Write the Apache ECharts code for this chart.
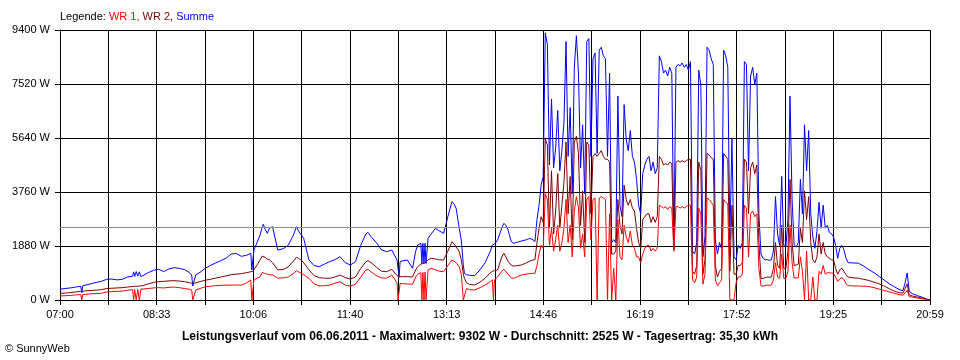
<!DOCTYPE html>
<html><head><meta charset="utf-8">
<script src="https://cdn.jsdelivr.net/npm/echarts@6/dist/echarts.min.js"></script>
<style>html,body{margin:0;padding:0;background:#fff}#c{width:960px;height:360px}</style>
</head><body><div id="c"></div>
<script>
// minutes since 07:00
const minutes = [
0,5,10,15,20,21,22,25,30,35,40,45,50,55,60,65,70,71,72,73.5,75,76.5,78,80,85,90,95,100,105,110,115,120,125,127,128,129.5,131,135,140,145,150,155,160,165,170,175,180,184,185,186,187,190,193,195,196,198,200,202,205,210,215,220,225,228,230,232,235,240,245,250,255,260,265,270,275,280,285,290,295,297,300,305,310,315,320,325,326,327,328,330,335,340,343,345,348,349,350,351,352,353,355,358,362,366,370,374,378,380,382,385,387,389,390,392,395,400,405,410,415,417,418,419,422,426,428,430,432,435,437,440,445,450,453,456,458,460,462,464,
466,468,470,472,474,476,478,480,482,484,486,488,490,492,494,496,498,500,502,504,506,508,510,512,514,516,518,520,522,524,526,528,530,532,534,536,538,540,542,544,546,548,550,552,554,556,558,560,562,564,566,568,570,572,574,576,578,580,582,584,586,588,590,592,594,596,598,600,602,604,606,608,610,612,614,616,618,620,622,624,626,628,630,632,634,636,638,640,642,644,646,648,650,652,654,656,658,660,662,664,666,668,670,672,674,676,678,680,682,684,686,688,690,692,694,696,698,700,702,704,706,708,710,712,714,716,718,720,722,724,726,728,730,732,734,736,738,740,742,744,746,748,750,752,754,756,758,760,
765,770,775,780,785,790,795,800,805,810,813,815,817,819,822,827,832,836,839
];
const summe = [
380,400,420,450,480,250,500,520,570,610,650,720,730,700,720,800,830,980,820,990,830,980,820,850,950,1030,1070,990,1080,1126,1100,1060,950,870,487,500,880,960,1100,1200,1290,1370,1450,1600,1620,1520,1560,1625,1044,1100,1740,2000,2262,2550,2634,2450,2320,2500,2552,1740,1780,1900,2250,2552,2400,2300,2146,1400,1200,1160,1250,1334,1400,1508,1300,1218,1334,1900,2300,2355,2200,2000,1750,1680,1740,1392,1350,812,1334,1360,1392,1102,1700,1915,1972,1270,1972,1270,1972,1270,2150,2300,2494,2400,2321,2900,3422,3350,3190,2500,2088,1200,928,880,860,847,1050,1300,1700,1915,1915,1950,2088,2500,2668,2600,2450,2050,1972,2000,2053,2100,2146,2100,2030,2800,3300,4000,
4300,9302,8900,4700,7000,4600,5300,6600,4500,5200,6200,9000,5000,6700,3700,8100,9200,7900,4600,6100,3700,9000,9100,5000,8400,8600,5100,8700,8800,8500,8400,5000,7900,2000,2100,2000,7100,3300,2900,6800,5600,5200,5900,5000,4800,4200,3300,3000,4400,4700,4900,5000,4500,4800,4400,4600,8500,8300,7900,8000,7800,8100,7900,1750,8100,8200,8150,8250,8100,8200,8000,8300,1700,1600,2000,8000,7500,1500,2200,8800,8700,8400,8200,2100,1600,2000,1800,8700,8500,8100,2100,5600,1500,1400,1900,1800,2000,8300,8200,4500,7800,8100,7500,7900,3000,1600,1450,1400,1400,1380,1400,1700,3600,2300,1900,4300,1900,1850,2800,7100,3500,1900,1850,2000,4200,3000,6100,4500,5900,3000,2200,1800,2400,3400,2500,3300,2500,2600,2350,2300,2200,1900,1450,1800,1900,1750,1450,1300,
1290,1280,1180,1060,950,820,690,560,450,350,330,600,940,300,220,150,90,30,0
];
const wr2 = [
230,240,260,280,300,300,300,320,330,345,360,400,410,420,430,450,470,470,475,480,480,485,490,500,560,610,640,650,665,673,660,640,600,580,580,580,590,640,690,720,760,800,840,880,900,920,950,985,990,1000,1050,1218,1400,1530,1566,1480,1420,1400,1300,1050,1060,1150,1350,1485,1450,1400,1300,1050,850,777,760,754,800,870,780,731,800,1100,1330,1369,1300,1150,1000,985,1068,850,812,812,812,812,812,800,1050,1160,1250,1260,1270,1280,1300,1320,1400,1450,1430,1400,1392,1700,2030,1950,1850,1682,1400,900,754,600,540,522,620,760,950,1000,1010,1020,1044,1500,1625,1500,1350,1220,1183,1190,1218,1300,1350,1392,1400,2000,2500,2900,
2700,5600,5400,2500,4500,2300,3100,4400,2500,3300,4100,5500,3000,4300,2100,5500,5700,5100,2600,3800,2000,5500,5400,3000,5000,5100,5000,5100,5200,5000,4900,4900,4800,1600,1600,1700,3500,2600,2300,4000,3500,3300,3500,3200,3100,2500,2000,1800,2800,2900,3000,3000,2700,2900,2700,2900,5000,4900,4700,4750,4700,4800,4750,1750,4800,4850,4800,4850,4800,4850,4900,4900,1000,900,1200,4800,4500,900,1400,5100,5050,4950,4900,1200,800,1000,1100,5100,5000,4900,1000,3300,900,900,1200,1200,1300,4900,4800,3000,4600,4800,4400,4700,2000,750,750,780,800,790,800,1100,2000,1200,1100,2600,1100,1100,1700,4200,2000,1200,1220,1250,2500,2000,3800,2800,3600,2000,1400,1300,1500,2300,1600,2000,1600,1500,1450,1400,1380,1100,900,1050,1110,1000,880,800,
770,760,720,680,620,560,480,390,300,250,240,400,560,180,140,100,60,20,0
];
const wr1 = [
140,150,160,175,190,0,195,200,215,225,235,280,290,300,310,340,360,0,365,0,370,0,375,380,400,420,430,420,440,450,430,400,370,350,0,0,350,400,460,480,500,510,515,520,520,520,600,696,0,0,700,760,812,960,985,920,900,880,870,760,770,800,920,1021,980,950,880,760,560,490,500,520,580,637,520,487,550,800,1040,1068,980,850,770,760,870,600,0,0,580,570,557,550,800,900,950,0,960,0,970,0,1050,1102,1050,1000,985,1200,1392,1350,1300,1160,900,0,0,400,360,348,430,520,640,696,0,700,800,1000,1068,1000,900,780,754,790,870,900,920,928,930,1200,1600,1900,
1800,3700,3500,1900,2500,1700,2100,2600,1700,2000,2500,3500,2000,2600,1500,3100,3600,3200,1800,2300,1500,3500,3600,2100,3500,3550,0,3550,3600,3550,3500,0,3000,0,1100,0,2800,1500,1400,2600,2200,2000,2400,1900,1800,1500,1500,1300,1600,1800,1900,1900,1700,1800,1700,1800,3300,3250,3200,3250,3150,3250,3200,1700,3250,3250,3200,3250,3200,3250,3300,3300,700,600,800,3200,3000,550,900,3550,3500,3400,3300,700,500,600,700,3500,3400,3350,0,0,0,600,800,800,900,3300,3200,1500,3000,3100,2900,3000,1100,500,480,500,520,510,520,700,1300,800,750,1600,750,750,1000,2600,1300,760,770,780,1500,1000,0,1700,0,0,800,0,0,1000,900,1200,900,950,950,940,920,800,650,740,770,720,560,500,
490,487,480,470,430,380,330,280,230,180,170,250,340,120,100,70,40,15,0
];
const xTickLabels = ['07:00','08:33','10:06','11:40','13:13','14:46','16:19','17:52','19:25','20:59'];
const yMax = 9400, yStep = 1880;
const average = 2525;
const spanMinutes = 839;
const titleText = 'Leistungsverlauf vom 06.06.2011 - Maximalwert: 9302 W - Durchschnitt: 2525 W - Tagesertrag: 35,30 kWh';

const FONT = 'Liberation Sans, Arial, sans-serif';
const xStep = spanMinutes / 18;
const pair = arr => minutes.map((m, i) => [m, arr[i]]);

const chart = echarts.init(document.getElementById('c'), null, {renderer: 'canvas'});
chart.setOption({
  animation: false,
  backgroundColor: '#ffffff',
  grid: {left: 60, right: 30, top: 30, bottom: 60, containLabel: false},
  xAxis: {
    type: 'value', min: 0, max: spanMinutes, interval: xStep,
    axisLine: {show: true, lineStyle: {color: '#000', width: 1}},
    axisTick: {show: true, length: 5, lineStyle: {color: '#000'}},
    splitLine: {show: true, lineStyle: {color: '#000', width: 1}},
    axisLabel: {
      color: '#000', fontSize: 11, fontFamily: FONT, margin: 9,
      showMinLabel: true, showMaxLabel: true,
      formatter: v => { const i = Math.round(v / xStep); return i % 2 === 0 ? (xTickLabels[i / 2] || '') : ''; }
    }
  },
  yAxis: {
    type: 'value', min: 0, max: yMax, interval: yStep,
    axisLine: {show: true, lineStyle: {color: '#000', width: 1}},
    axisTick: {show: true, length: 5, lineStyle: {color: '#000'}},
    splitLine: {show: true, lineStyle: {color: '#000', width: 1}},
    axisLabel: {color: '#000', fontSize: 11, fontFamily: FONT, margin: 10, formatter: v => v + ' W'}
  },
  series: [
    {name: 'Summe', type: 'line', data: pair(summe), symbol: 'none', lineStyle: {color: '#0000ff', width: 1}, itemStyle: {color: '#0000ff'}},
    {name: 'WR 2', type: 'line', data: pair(wr2), symbol: 'none', lineStyle: {color: '#800000', width: 1}, itemStyle: {color: '#800000'}},
    {name: 'WR 1', type: 'line', data: pair(wr1), symbol: 'none', lineStyle: {color: '#ff0000', width: 1}, itemStyle: {color: '#ff0000'},
      markLine: {silent: true, symbol: 'none', label: {show: false}, lineStyle: {color: '#8c8c8c', width: 1, type: 'solid'}, data: [{yAxis: average}]}}
  ],
  graphic: [
    {type: 'text', x: 60, y: 17, style: {
      text: '{k|Legende: }{a|WR 1, }{b|WR 2, }{c|Summe}',
      verticalAlign: 'middle', fontSize: 11, fontFamily: FONT,
      rich: {k: {fill: '#000', fontSize: 11, fontFamily: FONT}, a: {fill: '#ff0000', fontSize: 11, fontFamily: FONT}, b: {fill: '#800000', fontSize: 11, fontFamily: FONT}, c: {fill: '#0000ff', fontSize: 11, fontFamily: FONT}}
    }},
    {type: 'text', x: 480, y: 337, style: {text: titleText, align: 'center', verticalAlign: 'middle', fontSize: 12, fontWeight: 'bold', fontFamily: FONT, fill: '#000'}},
    {type: 'text', x: 5, y: 349, style: {text: '\u00A9 SunnyWeb', verticalAlign: 'middle', fontSize: 11, fontFamily: FONT, fill: '#000'}}
  ]
});
</script></body></html>
